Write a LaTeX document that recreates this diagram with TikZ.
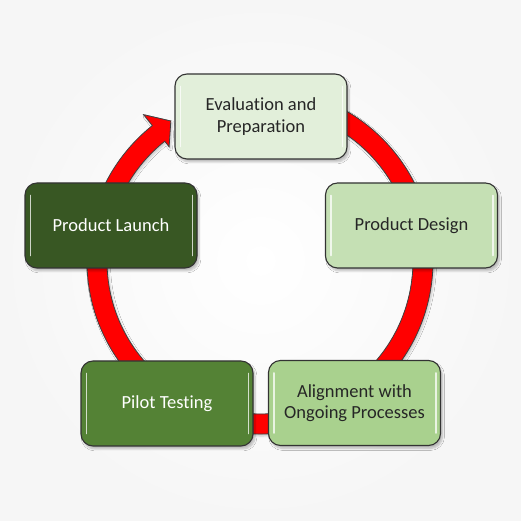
\documentclass[tikz,border=0pt]{standalone}
\usepackage{fontspec}
\setmainfont[Ligatures={NoCommon},RawFeature={-liga;-clig}]{Carlito}
\usetikzlibrary{calc,shadows.blur}
\definecolor{cA}{HTML}{E2EFDA}
\definecolor{cB}{HTML}{C5E0B4}
\definecolor{cC}{HTML}{A9D18E}
\definecolor{cD}{HTML}{548235}
\definecolor{cE}{HTML}{385723}
\definecolor{txtdark}{HTML}{262626}
\definecolor{ringred}{HTML}{FF0000}
\begin{document}
\begin{tikzpicture}[x=1pt,y=1pt,
  gbox/.style={rectangle, rounded corners=12pt, draw=black!80, line width=1.1pt,
    minimum width=172pt, minimum height=85pt, inner sep=2pt, align=center,
    font=\fontsize{18.5}{21.5}\selectfont,
    blur shadow={shadow xshift=2pt, shadow yshift=-3pt, shadow blur steps=6, shadow opacity=25}},
  hl/.style={white, opacity=0.75, line width=1.6pt, line cap=round},
  ringstyle/.style={fill=ringred, draw=black!75, line width=0.8pt,
    blur shadow={shadow xshift=1.5pt, shadow yshift=-2pt, shadow blur steps=5, shadow opacity=20}}]
\useasboundingbox (0,0) rectangle (521,521);
\shade[inner color=white, outer color=black!3.5] (0,0) rectangle (521,521);
\coordinate (C) at (260,260);
% circular arrow
\path[ringstyle] ($(C)+(80:173)$) arc[start angle=80, end angle=-231.5, radius=173]
  -- ($(C)+(128.5:187)$) -- ($(C)+(122.5:166)$) -- ($(C)+(128.5:146)$)
  -- ($(C)+(128.5:153)$) arc[start angle=-231.5, end angle=80, radius=153] -- cycle;
% boxes
\node[gbox, fill=cA, text=txtdark] (eval) at (261,404.5) {Evaluation and\\Preparation};
\node[gbox, fill=cB, text=txtdark] (design) at (411.5,295.5) {Product Design};
\node[gbox, fill=cC, text=txtdark] (align) at (354.5,118) {Alignment with\\Ongoing Processes};
\node[gbox, fill=cD, text=white] (pilot) at (167,117.5) {Pilot Testing};
\node[gbox, fill=cE, text=white] (launch) at (111,295.5) {Product Launch};
% glossy highlights
\foreach \n in {eval,design,align,pilot,launch}{
  \draw[hl] ([xshift=6pt,yshift=-13pt]\n.north west) -- ([xshift=6pt,yshift=13pt]\n.south west);
  \draw[hl] ([xshift=-5pt,yshift=-13pt]\n.north east) -- ([xshift=-5pt,yshift=13pt]\n.south east);
}
\end{tikzpicture}
\end{document}
